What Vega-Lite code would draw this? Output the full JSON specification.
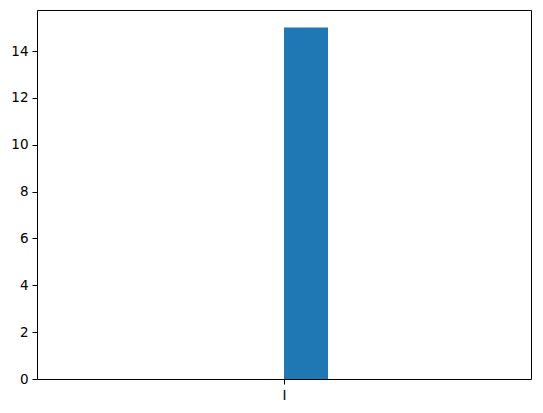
{
  "$schema": "https://vega.github.io/schema/vega-lite/v6.json",
  "width": 494,
  "height": 369,
  "autosize": {"type": "none"},
  "padding": {"left": 37, "top": 10, "right": 12, "bottom": 34},
  "background": "white",
  "config": {
    "view": {"stroke": "black", "strokeWidth": 1},
    "axis": {
      "domain": false,
      "grid": false,
      "tickColor": "black",
      "tickSize": 5,
      "labelFont": "DejaVu Sans",
      "labelFontSize": 13.5,
      "labelColor": "black",
      "labelPadding": 4,
      "labelFlush": false,
      "title": null
    }
  },
  "data": {"values": [{"label": "I", "start": 0, "end": 0.1, "count": 15}]},
  "mark": {"type": "bar", "color": "#1f77b4", "orient": "vertical"},
  "encoding": {
    "x": {
      "field": "start", "type": "quantitative",
      "scale": {"domain": [-0.55, 0.55], "nice": false, "zero": false},
      "axis": {"values": [0], "labelExpr": "datum.value == 0 ? 'I' : ''"}
    },
    "x2": {"field": "end"},
    "y": {
      "field": "count", "type": "quantitative",
      "scale": {"domain": [0, 15.75], "nice": false},
      "axis": {"values": [0, 2, 4, 6, 8, 10, 12, 14]}
    },
    "y2": {"datum": 0}
  }
}
